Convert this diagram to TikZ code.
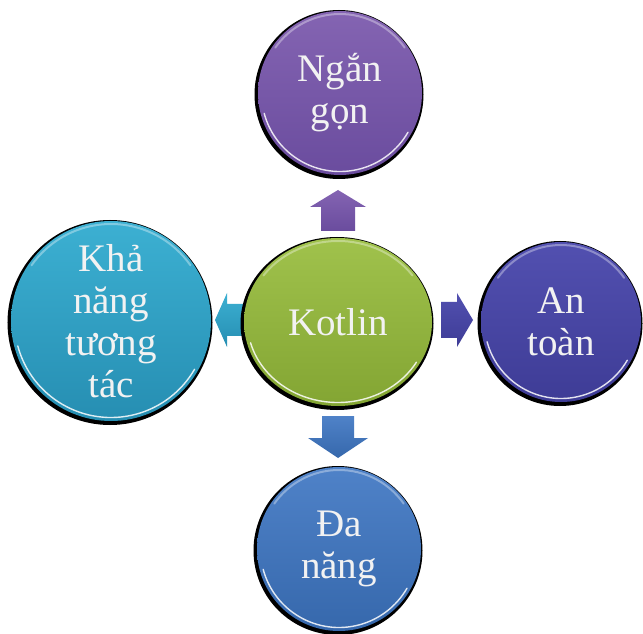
\documentclass[tikz,border=0pt]{standalone}
\usepackage{fontspec}
\setmainfont{Liberation Serif}
\usetikzlibrary{shapes.geometric}

\definecolor{labeltext}{HTML}{F2F2F2}
\definecolor{purpleTop}{HTML}{8464B2}
\definecolor{purpleBot}{HTML}{6A4C9E}
\definecolor{greenTop}{HTML}{A0C24C}
\definecolor{greenBot}{HTML}{83A533}
\definecolor{tealTop}{HTML}{3CB0D2}
\definecolor{tealBot}{HTML}{268EB2}
\definecolor{indigoTop}{HTML}{5250B0}
\definecolor{indigoBot}{HTML}{3E3C96}
\definecolor{blueTop}{HTML}{4F82C8}
\definecolor{blueBot}{HTML}{3668AC}

\tikzset{
  orb/.style={inner sep=0pt, text=labeltext, align=center,
    font=\fontsize{39}{42}\selectfont,
    preaction={fill=black, draw=black, line width=5pt,
      transform canvas={xshift=-1pt, yshift=-1.5pt}}},
  orbshade/.style 2 args={shade, top color=#1, bottom color=#2},
  arrowshade/.style 2 args={shade, top color=#1, bottom color=#2,
    preaction={fill=black, draw=black, line width=3pt,
      transform canvas={xshift=-1.5pt, yshift=-1.5pt}}},
  pics/blockarrow/.style n args={4}{code={
    % tip at origin, pointing along +x
    \path[pic actions] (0,0) -- (-#1,#2) -- (-#1,#3) -- (-#1-#4,#3)
      -- (-#1-#4,-#3) -- (-#1,-#3) -- (-#1,-#2) -- cycle;
  }},
  rimlow/.style={white, opacity=.85, line width=1.4pt, line cap=round},
  rimhigh/.style={white, opacity=.35, line width=2pt, line cap=round},
}

% glossy rim lines of an orb: node name, x radius, y radius
\newcommand\orbrims[3]{%
  \draw[rimlow] ([shift={(195:#2-3.5 and #3-3.5)}]#1.center)
    arc[start angle=195, end angle=330, x radius=#2-3.5, y radius=#3-3.5];
  \draw[rimhigh] ([shift={(35:#2-3 and #3-3)}]#1.center)
    arc[start angle=35, end angle=145, x radius=#2-3, y radius=#3-3];
}

\begin{document}
\begin{tikzpicture}[x=1pt, y=1pt]
  \useasboundingbox[fill=white] (0,0) rectangle (643,633);

  % block arrows (drawn first so the orbs cover the shaft ends)
  \pic[rotate=90, arrowshade={purpleTop}{purpleBot}] at (338,443) {blockarrow={17}{28}{17}{24}};
  \pic[rotate=-90, arrowshade={blueTop}{blueBot}] at (338,175) {blockarrow={20}{30}{16}{22}};
  \pic[rotate=180, arrowshade={tealTop}{tealBot}] at (215,313) {blockarrow={12}{27}{16}{26}};
  \pic[arrowshade={indigoTop}{indigoBot}] at (473,313) {blockarrow={16}{27}{18}{16}};

  % orbs
  \node[orb, ellipse, minimum width=188pt, minimum height=168pt,
        orbshade={greenTop}{greenBot}] (kotlin) at (338,311) {Kotlin};
  \node[orb, circle, minimum size=164pt,
        orbshade={purpleTop}{purpleBot}] (ngangon) at (340,540) {Ngắn\\gọn};
  \node[orb, circle, minimum size=200pt,
        orbshade={tealTop}{tealBot}] (tuongtac) at (111,312) {Khả\\năng\\tương\\tác};
  \node[orb, circle, minimum size=160pt,
        orbshade={indigoTop}{indigoBot}] (antoan) at (561,311) {An\\toàn};
  \node[orb, circle, minimum size=164pt,
        orbshade={blueTop}{blueBot}] (danang) at (339,84) {Đa\\năng};

  \orbrims{kotlin}{94}{84}
  \orbrims{ngangon}{82}{82}
  \orbrims{tuongtac}{100}{100}
  \orbrims{antoan}{80}{80}
  \orbrims{danang}{82}{82}
\end{tikzpicture}
\end{document}
